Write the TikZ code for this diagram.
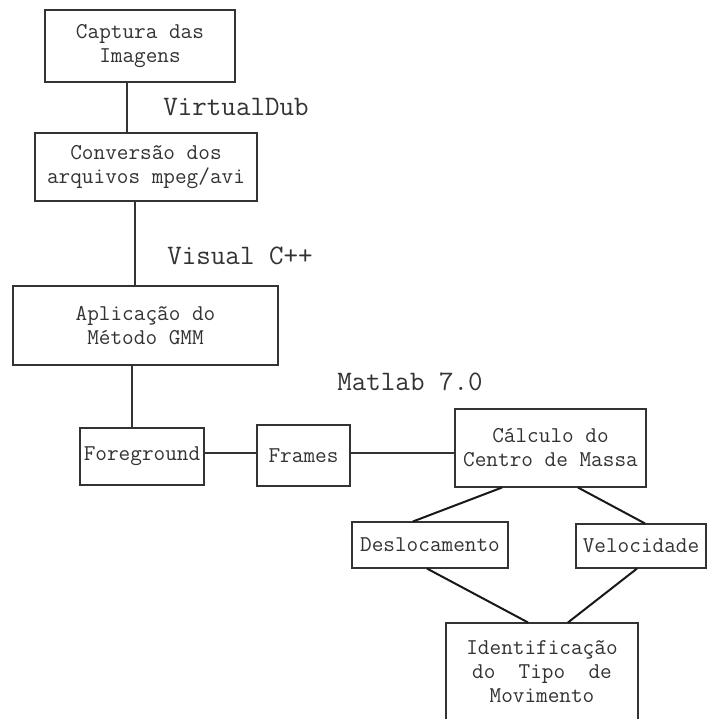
\documentclass[tikz,border=0pt]{standalone}
\usepackage{fontspec}
\begin{document}
\begin{tikzpicture}[x=1pt,y=-1pt,
  box/.style={draw=black!80,line width=1.1pt,inner sep=0pt,align=center,
    font=\ttfamily\fontsize{22.6}{24}\selectfont,text=black!80},
  lbl/.style={inner sep=0pt,font=\ttfamily\fontsize{28.2}{30}\selectfont,text=black!80},
  ln/.style={draw=black!80,line width=1.1pt},
  dl/.style={draw=black!90,line width=2pt}]
\useasboundingbox[fill=white] (0,0) rectangle (707,719);
\node[box,minimum width=190pt,minimum height=72pt] (b1) at (140,46) {Captura das\\Imagens};
\node[box,minimum width=222pt,minimum height=68pt] (b2) at (146,167) {Conversão dos\\arquivos mpeg/avi};
\node[box,minimum width=265pt,minimum height=79pt] (b3) at (145.5,325.5) {Aplicação do\\Método GMM};
\node[box,minimum width=124pt,minimum height=57pt] (fg) at (142,456.5) {Foreground};
\node[box,minimum width=93pt,minimum height=61pt] (fr) at (303.5,455.5) {Frames};
\node[box,minimum width=191pt,minimum height=78pt] (cm) at (550.5,448) {Cálculo do\\Centro de Massa};
\node[box,minimum width=156pt,minimum height=46pt] (de) at (430,545) {Deslocamento};
\node[box,minimum width=130pt,minimum height=44pt] (ve) at (641,546) {Velocidade};
\node[box,minimum width=192pt,minimum height=98pt] (id) at (542,672) {Identificação\\do~~Tipo~~de\\Movimento};
\node[lbl] (l1) at (236,107) {VirtualDub};
\node[lbl] (l2) at (240,256) {Visual C++};
\node[lbl] (l3) at (410,382) {Matlab 7.0};
\draw[ln] ([xshift=-13pt]b1.south) -- ([xshift=-19pt]b2.north);
\draw[ln] ([xshift=-11pt]b2.south) -- ([xshift=-10.5pt]b3.north);
\draw[ln] ([xshift=-13.5pt]b3.south) -- ([xshift=-10pt]fg.north);
\draw[ln] ([yshift=3.5pt]fg.east) -- ([yshift=2.5pt]fr.west);
\draw[ln] ([yshift=2.5pt]fr.east) -- ([yshift=-5pt]cm.west);
\draw[dl] ([xshift=-48.5pt]cm.south) -- ([xshift=-17pt]de.north);
\draw[dl] ([xshift=27.5pt]cm.south) -- ([xshift=4pt]ve.north);
\draw[dl] ([xshift=-3pt]de.south) -- ([xshift=-14pt]id.north);
\draw[dl] ([xshift=-4pt]ve.south) -- ([xshift=26pt]id.north);
\end{tikzpicture}
\end{document}
